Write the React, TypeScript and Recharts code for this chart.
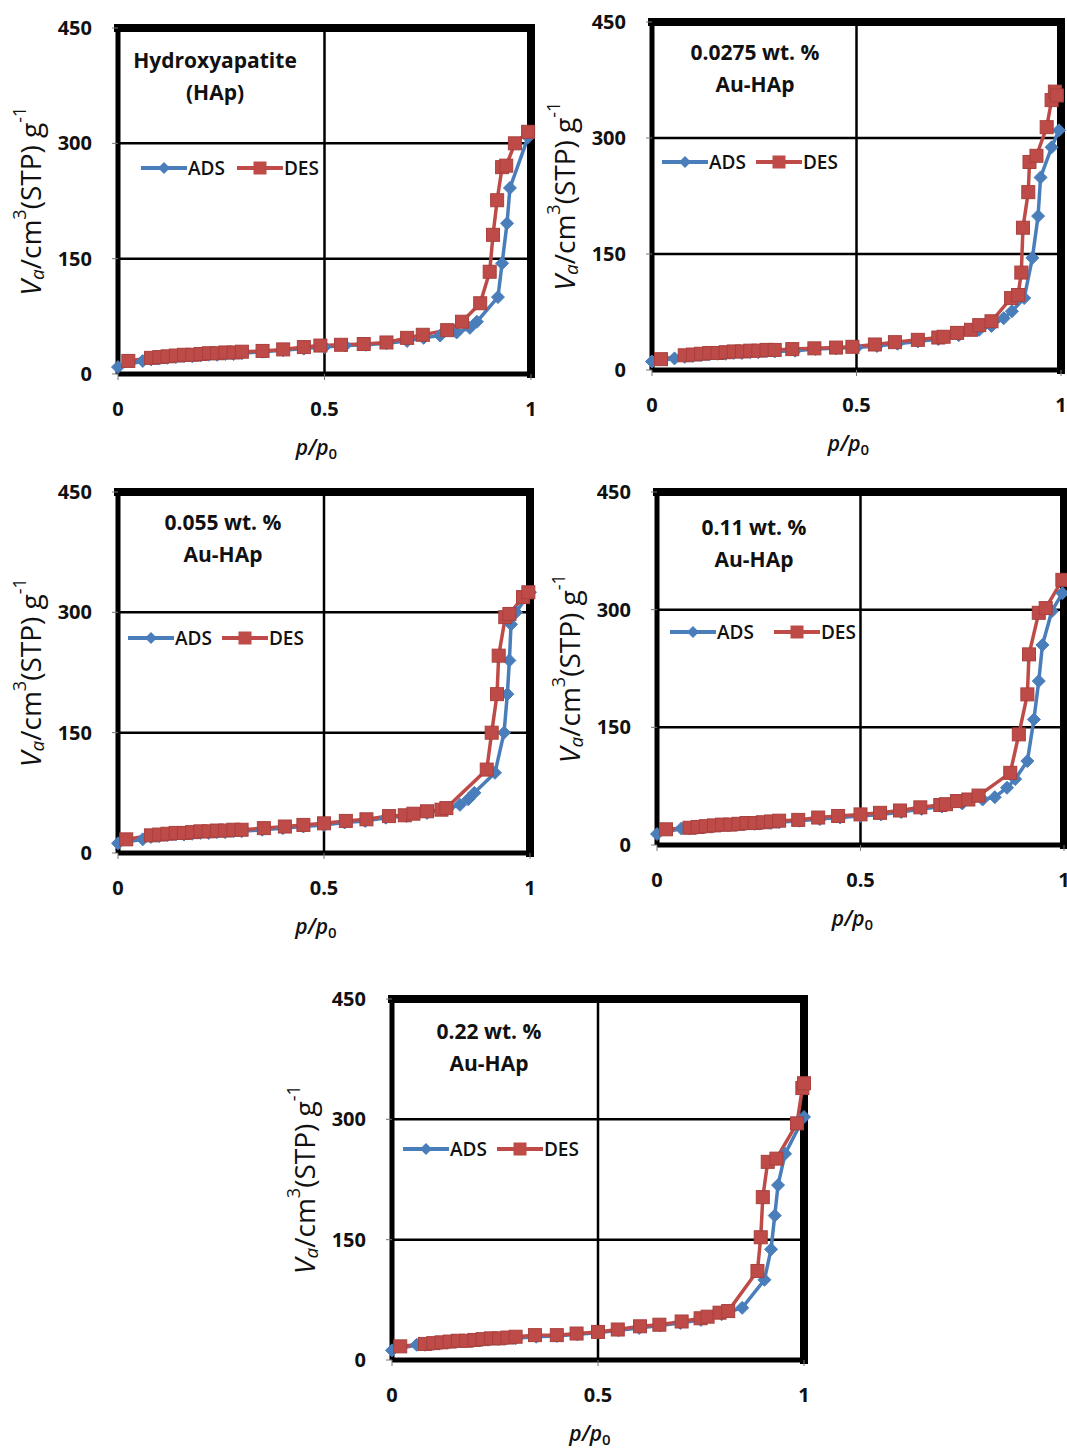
import React from 'react';
import { LineChart, Line, XAxis, YAxis, CartesianGrid, ReferenceLine, Legend } from 'recharts';

// [p/p0, Va] pairs
const HAP_ADS: [number, number][] = [
  [0, 9], [0.06, 17], [0.08, 19], [0.1, 20], [0.12, 21], [0.14, 22], [0.16, 23], [0.18, 23], [0.2, 24],
  [0.22, 25], [0.24, 25], [0.26, 26], [0.28, 26], [0.3, 27], [0.35, 29], [0.4, 31], [0.45, 33], [0.5, 35],
  [0.55, 37], [0.6, 38], [0.65, 40], [0.7, 43], [0.74, 47], [0.78, 50], [0.82, 54], [0.852, 60], [0.869, 68],
  [0.92, 100], [0.93, 144], [0.942, 196], [0.949, 242], [0.993, 308],
];
const HAP_DES: [number, number][] = [
  [0.025, 17], [0.08, 21], [0.1, 22], [0.12, 23], [0.14, 24], [0.16, 25], [0.18, 25], [0.2, 26], [0.22, 27],
  [0.24, 27], [0.26, 28], [0.28, 28], [0.3, 29], [0.35, 30], [0.4, 32], [0.45, 35], [0.49, 37], [0.54, 38],
  [0.595, 39], [0.65, 41], [0.7, 47], [0.738, 51], [0.797, 57], [0.833, 68], [0.877, 92], [0.9, 133],
  [0.908, 181], [0.918, 226], [0.93, 269], [0.94, 271], [0.961, 300], [0.993, 315],
];

const AU0275_ADS: [number, number][] = [
  [0, 11], [0.055, 15], [0.08, 17], [0.1, 18], [0.12, 19], [0.14, 20], [0.16, 21], [0.18, 21], [0.2, 22],
  [0.22, 22], [0.24, 23], [0.26, 23], [0.28, 24], [0.3, 24], [0.35, 25], [0.4, 27], [0.45, 28], [0.5, 29],
  [0.55, 31], [0.6, 34], [0.65, 37], [0.7, 40], [0.75, 45], [0.8, 52], [0.83, 57], [0.86, 67], [0.88, 76],
  [0.91, 93], [0.93, 145], [0.944, 199], [0.95, 249], [0.977, 288], [0.995, 310],
];
const AU0275_DES: [number, number][] = [
  [0.022, 14], [0.08, 19], [0.1, 20], [0.12, 21], [0.14, 22], [0.16, 22], [0.18, 23], [0.2, 24], [0.22, 24],
  [0.24, 25], [0.26, 25], [0.28, 26], [0.3, 26], [0.343, 27], [0.397, 28], [0.45, 29], [0.49, 30], [0.545, 33],
  [0.594, 36], [0.65, 39], [0.7, 42], [0.713, 43], [0.746, 48], [0.78, 52], [0.8, 58], [0.83, 63], [0.878, 93],
  [0.895, 97], [0.903, 126], [0.907, 184], [0.92, 230], [0.923, 269], [0.94, 277], [0.965, 314], [0.977, 349],
  [0.985, 360], [0.99, 355],
];

const AU055_ADS: [number, number][] = [
  [0, 12], [0.06, 17], [0.08, 20], [0.1, 21], [0.12, 22], [0.14, 23], [0.16, 23], [0.18, 24], [0.2, 25],
  [0.22, 25], [0.24, 26], [0.26, 26], [0.28, 27], [0.3, 27], [0.35, 29], [0.4, 31], [0.45, 33], [0.5, 35],
  [0.55, 38], [0.6, 40], [0.65, 44], [0.7, 46], [0.75, 50], [0.8, 55], [0.83, 60], [0.85, 67], [0.865, 75],
  [0.915, 100], [0.937, 150], [0.945, 198], [0.95, 240], [0.954, 285], [0.966, 300], [1.0, 325],
];
const AU055_DES: [number, number][] = [
  [0.02, 17], [0.08, 22], [0.1, 23], [0.12, 24], [0.14, 25], [0.16, 25], [0.18, 26], [0.2, 27], [0.22, 27],
  [0.24, 28], [0.26, 28], [0.28, 29], [0.3, 29], [0.354, 31], [0.405, 33], [0.45, 35], [0.5, 37], [0.553, 40],
  [0.603, 42], [0.658, 46], [0.696, 47], [0.717, 49], [0.75, 52], [0.785, 54], [0.797, 56], [0.895, 104],
  [0.907, 150], [0.92, 198], [0.924, 246], [0.94, 294], [0.95, 298], [0.983, 319], [0.996, 325],
];

const AU11_ADS: [number, number][] = [
  [0, 14], [0.06, 21], [0.08, 21], [0.1, 22], [0.12, 23], [0.14, 24], [0.16, 25], [0.18, 25], [0.2, 26],
  [0.22, 27], [0.24, 27], [0.26, 28], [0.28, 28], [0.3, 29], [0.35, 31], [0.4, 33], [0.45, 35], [0.5, 37],
  [0.55, 39], [0.6, 42], [0.65, 46], [0.7, 49], [0.75, 53], [0.8, 58], [0.83, 61], [0.86, 73], [0.88, 84],
  [0.91, 107], [0.926, 160], [0.938, 209], [0.947, 255], [0.97, 298], [0.996, 321],
];
const AU11_DES: [number, number][] = [
  [0.022, 20], [0.08, 22], [0.1, 23], [0.12, 24], [0.14, 25], [0.16, 26], [0.18, 26], [0.2, 27], [0.22, 28],
  [0.24, 28], [0.26, 29], [0.28, 30], [0.3, 31], [0.347, 32], [0.396, 35], [0.445, 37], [0.5, 39], [0.548, 41],
  [0.597, 44], [0.647, 48], [0.696, 51], [0.71, 52], [0.737, 56], [0.765, 58], [0.79, 63], [0.868, 92],
  [0.889, 141], [0.91, 192], [0.914, 243], [0.938, 296], [0.955, 302], [0.996, 338],
];

const AU22_ADS: [number, number][] = [
  [0, 12], [0.06, 19], [0.08, 19], [0.1, 20], [0.12, 21], [0.14, 22], [0.16, 23], [0.18, 23], [0.2, 24],
  [0.22, 25], [0.24, 26], [0.26, 26], [0.28, 27], [0.3, 27], [0.35, 29], [0.4, 30], [0.45, 32], [0.5, 34],
  [0.55, 37], [0.6, 40], [0.65, 43], [0.7, 46], [0.75, 50], [0.8, 57], [0.85, 65], [0.904, 100], [0.92, 138],
  [0.929, 180], [0.937, 218], [0.954, 257], [1.0, 303],
];
const AU22_DES: [number, number][] = [
  [0.02, 17], [0.08, 20], [0.1, 21], [0.12, 22], [0.14, 23], [0.16, 24], [0.18, 24], [0.2, 25], [0.22, 26],
  [0.24, 27], [0.26, 27], [0.28, 28], [0.3, 29], [0.347, 31], [0.4, 31], [0.448, 33], [0.5, 35], [0.548, 38],
  [0.602, 42], [0.649, 44], [0.703, 48], [0.749, 52], [0.766, 54], [0.795, 59], [0.816, 61], [0.887, 111],
  [0.895, 153], [0.9, 203], [0.912, 247], [0.933, 251], [0.983, 295], [0.996, 339], [1.0, 345],
];

const X_TICKS = [0, 0.5, 1];
const Y_TICKS = [0, 150, 300, 450];

const BLUE = '#4A7EBB';
const RED = '#BE4B48';
const FONT = '"Open Sans", "Liberation Sans", sans-serif';

// plot frame placement of each panel on the page
const PANELS = [
  { ads: HAP_ADS, des: HAP_DES, x0: 118, x1: 531, top: 28, bottom: 374, note: ['Hydroxyapatite', '(HAp)'], noteX: 215, noteY: 44, legX: 141, legY: 167, legGap: 12 },
  { ads: AU0275_ADS, des: AU0275_DES, x0: 652, x1: 1061, top: 22, bottom: 370, note: ['0.0275 wt. %', 'Au-HAp'], noteX: 755, noteY: 36, legX: 662, legY: 161, legGap: 10 },
  { ads: AU055_ADS, des: AU055_DES, x0: 118, x1: 530, top: 492, bottom: 853, note: ['0.055 wt. %', 'Au-HAp'], noteX: 223, noteY: 506, legX: 128, legY: 637, legGap: 10 },
  { ads: AU11_ADS, des: AU11_DES, x0: 657, x1: 1064, top: 492, bottom: 845, note: ['0.11 wt. %', 'Au-HAp'], noteX: 754, noteY: 511, legX: 670, legY: 631, legGap: 20 },
  { ads: AU22_ADS, des: AU22_DES, x0: 392, x1: 804, top: 999, bottom: 1360, note: ['0.22 wt. %', 'Au-HAp'], noteX: 489, noteY: 1015, legX: 403, legY: 1148, legGap: 10 },
];

const LEFT = 110;
const TOP = 20;
const RIGHT = 14;
const BOTTOM = 110;
const Y_AXIS_W = 60;
const X_AXIS_H = 60;

const Diamond = (props: any) => {
  const { cx, cy, index } = props;
  if (cx == null || cy == null) return <g key={`d${index}`} />;
  const r = 6.5;
  return (
    <polygon
      key={`d${index}`}
      points={`${cx},${cy - r} ${cx + r},${cy} ${cx},${cy + r} ${cx - r},${cy}`}
      fill={BLUE}
      stroke={BLUE}
      strokeWidth={1}
    />
  );
};

const Square = (props: any) => {
  const { cx, cy, index } = props;
  if (cx == null || cy == null) return <g key={`s${index}`} />;
  const s = 13;
  return <rect key={`s${index}`} x={cx - s / 2} y={cy - s / 2} width={s} height={s} fill={RED} stroke="#A9403D" strokeWidth={1} />;
};

const LegendBox = ({ gap }: { gap: number }) => (
  <div style={{ display: 'flex', alignItems: 'center', fontFamily: FONT, fontWeight: 600, fontSize: 19, color: '#111', whiteSpace: 'nowrap' }}>
    <svg width={46} height={16}>
      <line x1={0} y1={8} x2={46} y2={8} stroke={BLUE} strokeWidth={4} />
      <polygon points="23,2 29,8 23,14 17,8" fill={BLUE} />
    </svg>
    <span style={{ marginLeft: 1 }}>ADS</span>
    <svg width={46} height={16} style={{ marginLeft: gap }}>
      <line x1={0} y1={8} x2={46} y2={8} stroke={RED} strokeWidth={4} />
      <rect x={16.5} y={1.5} width={13} height={13} fill={RED} />
    </svg>
    <span style={{ marginLeft: 1 }}>DES</span>
  </div>
);

function Panel({ cfg }: { cfg: (typeof PANELS)[number] }) {
  const pw = cfg.x1 - cfg.x0;
  const ph = cfg.bottom - cfg.top;
  const w = LEFT + pw + RIGHT;
  const h = TOP + ph + BOTTOM;
  const chartLeft = cfg.x0 - LEFT;
  const chartTop = cfg.top - TOP;
  const ads = cfg.ads.map(([p, v]) => ({ p, v }));
  const des = cfg.des.map(([p, v]) => ({ p, v }));

  const yLabelX = LEFT - 88;
  const yLabelY = TOP + ph / 2;
  const xLabelX = LEFT + pw / 2 - 8;
  const xLabelY = TOP + ph + 81;

  return (
    <div style={{ position: 'absolute', left: chartLeft, top: chartTop }}>
      <LineChart
        width={w}
        height={h}
        margin={{ top: TOP, right: RIGHT, left: LEFT - Y_AXIS_W, bottom: BOTTOM - X_AXIS_H }}
      >
        <CartesianGrid stroke="#000" strokeWidth={2.5} />
        <XAxis
          type="number"
          dataKey="p"
          domain={[0, 1]}
          ticks={X_TICKS}
          height={X_AXIS_H}
          axisLine={{ stroke: '#000', strokeWidth: 5 }}
          tickLine={{ stroke: '#777', strokeWidth: 1 }}
          tickSize={6}
          tickMargin={22}
          tick={{ fill: '#111', fontSize: 20, fontWeight: 700, fontFamily: FONT }}
          tickFormatter={(v: number) => String(v)}
          label={{
            content: () => (
              <text x={xLabelX} y={xLabelY} textAnchor="middle" fontFamily={FONT} fontSize={21} fontWeight={600} fill="#111">
                <tspan fontStyle="italic">p/p</tspan>
                <tspan fontSize={15} dy={4}>0</tspan>
              </text>
            ),
          }}
        />
        <YAxis
          type="number"
          domain={[0, 450]}
          ticks={Y_TICKS}
          width={Y_AXIS_W}
          axisLine={{ stroke: '#000', strokeWidth: 5 }}
          tickLine={{ stroke: '#777', strokeWidth: 1 }}
          tickSize={6}
          tickMargin={20}
          tick={{ fill: '#111', fontSize: 20, fontWeight: 700, fontFamily: FONT }}
          label={{
            content: () => (
              <text
                x={yLabelX}
                y={yLabelY}
                transform={`rotate(-90 ${yLabelX} ${yLabelY})`}
                textAnchor="middle"
                dominantBaseline="central"
                fontFamily={FONT}
                fontSize={28}
                fontWeight={500}
                fill="#111"
              >
                <tspan fontStyle="italic">V</tspan>
                <tspan fontStyle="italic" fontSize={19} dy={7}>a</tspan>
                <tspan dy={-7}>/cm</tspan>
                <tspan fontSize={18} dy={-11}>3</tspan>
                <tspan dy={11}>(STP) g</tspan>
                <tspan fontSize={18} dy={-11}>-1</tspan>
              </text>
            ),
          }}
        />
        <ReferenceLine y={450} stroke="#000" strokeWidth={8} strokeLinecap="square" />
        <ReferenceLine x={1} stroke="#000" strokeWidth={8} strokeLinecap="square" />
        <Legend
          layout="horizontal"
          verticalAlign="middle"
          align="center"
          wrapperStyle={{ left: cfg.legX - chartLeft, top: cfg.legY - chartTop - 12, width: 'auto', height: 'auto' }}
          content={() => <LegendBox gap={cfg.legGap} />}
        />
        <Line
          data={ads}
          dataKey="v"
          name="ADS"
          stroke={BLUE}
          strokeWidth={3.5}
          dot={Diamond}
          activeDot={false}
          isAnimationActive={false}
        />
        <Line
          data={des}
          dataKey="v"
          name="DES"
          stroke={RED}
          strokeWidth={3.5}
          dot={Square}
          activeDot={false}
          isAnimationActive={false}
        />
      </LineChart>
      <div
        style={{
          position: 'absolute',
          left: cfg.noteX - chartLeft - 130,
          top: cfg.noteY - chartTop,
          width: 260,
          textAlign: 'center',
          fontFamily: FONT,
          fontWeight: 700,
          fontSize: 21,
          lineHeight: '32px',
          color: '#111',
        }}
      >
        {cfg.note.map((line) => (
          <div key={line}>{line}</div>
        ))}
      </div>
    </div>
  );
}

export default function App() {
  return (
    <div style={{ position: 'absolute', left: 0, top: 0, width: 1067, height: 1450, overflow: 'hidden', background: '#fff' }}>
      {PANELS.map((cfg, i) => (
        <Panel key={i} cfg={cfg} />
      ))}
    </div>
  );
}
